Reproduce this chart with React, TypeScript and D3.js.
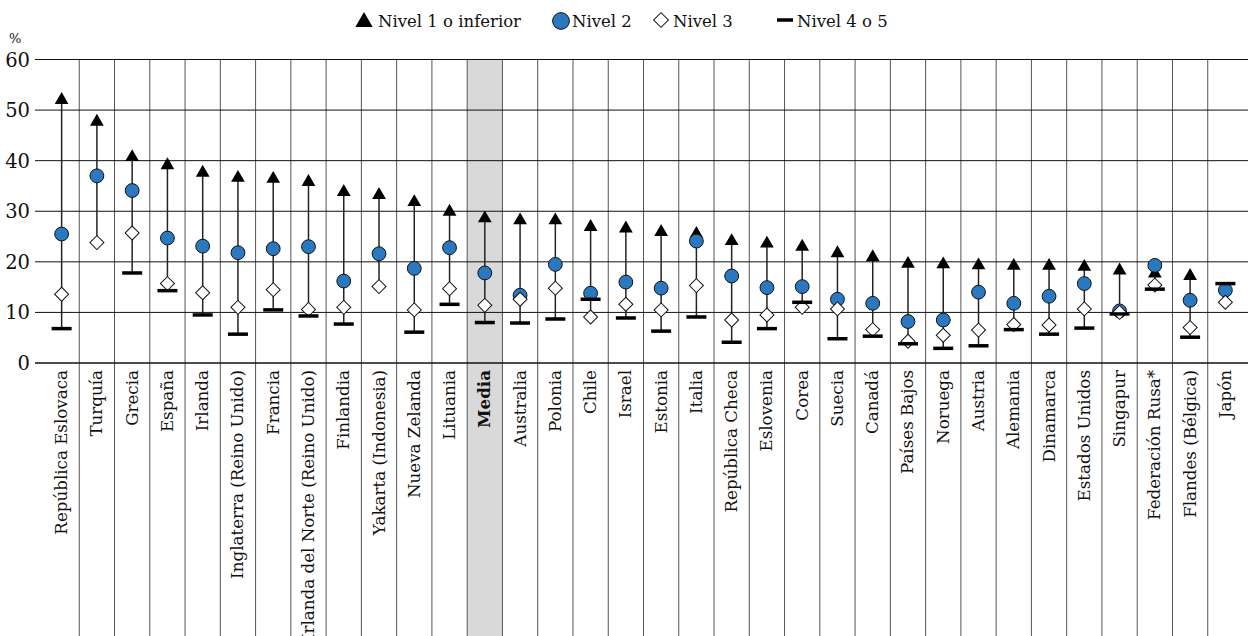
import React from "react";
import * as d3 from "d3";

const categories = [
  "República Eslovaca", "Turquía", "Grecia", "España", "Irlanda",
  "Inglaterra (Reino Unido)", "Francia", "Irlanda del Norte (Reino Unido)",
  "Finlandia", "Yakarta (Indonesia)", "Nueva Zelanda", "Lituania", "Media",
  "Australia", "Polonia", "Chile", "Israel", "Estonia", "Italia",
  "República Checa", "Eslovenia", "Corea", "Suecia", "Canadá", "Países Bajos",
  "Noruega", "Austria", "Alemania", "Dinamarca", "Estados Unidos", "Singapur",
  "Federación Rusa*", "Flandes (Bélgica)", "Japón",
];
const nivel1: (number | null)[] = [
  52.0, 47.7, 40.7, 39.1, 37.6, 36.6, 36.4, 35.8, 33.8, 33.2, 31.8, 29.9, 28.6,
  28.2, 28.2, 26.9, 26.6, 25.9, 25.5, 24.1, 23.6, 23.0, 21.7, 20.9, 19.6, 19.5,
  19.3, 19.2, 19.2, 19.0, 18.3, 17.7, 17.2, null,
];
const nivel2: (number | null)[] = [
  25.5, 37.0, 34.1, 24.7, 23.1, 21.8, 22.6, 23.0, 16.2, 21.6, 18.7, 22.8, 17.8,
  13.4, 19.5, 13.8, 16.0, 14.8, 24.1, 17.2, 14.9, 15.1, 12.6, 11.8, 8.2, 8.5,
  14.0, 11.8, 13.2, 15.7, 10.3, 19.3, 12.4, 14.4,
];
const nivel3: (number | null)[] = [
  13.6, 23.8, 25.7, 15.7, 13.9, 11.0, 14.5, 10.6, 11.0, 15.1, 10.5, 14.7, 11.4,
  12.6, 14.8, 9.1, 11.6, 10.5, 15.3, 8.5, 9.5, 11.0, 10.7, 6.6, 4.3, 5.5, 6.5,
  7.6, 7.5, 10.7, 10.0, 15.4, 7.0, 12.0,
];
const nivel45: (number | null)[] = [
  6.8, null, 17.8, 14.3, 9.5, 5.7, 10.5, 9.3, 7.7, null, 6.1, 11.6, 8.0, 7.9,
  8.7, 12.6, 8.9, 6.3, 9.1, 4.1, 6.8, 12.0, 4.8, 5.3, 3.8, 2.9, 3.4, 6.6, 5.7,
  6.9, 9.7, 14.6, 5.1, 15.7,
];
const yTicks = [0, 10, 20, 30, 40, 50, 60];
const legendLabels = ["Nivel 1 o inferior", "Nivel 2", "Nivel 3", "Nivel 4 o 5"];
const highlight = "Media";

const W = 1248;
const H = 636;
const FONT = "'DejaVu Serif', serif";

export default function App() {
  const x = d3.scaleBand<string>().domain(categories).range([44, 1243]);
  const y = d3.scaleLinear().domain([0, 60]).range([363, 59.5]);
  const gridLeft = 35;
  const gridRight = 1248;

  const tri = d3.symbol().type(d3.symbolTriangle).size(82)()!;
  const circ = d3.symbol().type(d3.symbolCircle).size(150)()!;
  const diam = d3.symbol().type(d3.symbolSquare).size(98)()!;
  const triL = d3.symbol().type(d3.symbolTriangle).size(130)()!;
  const circL = d3.symbol().type(d3.symbolCircle).size(220)()!;
  const diamL = d3.symbol().type(d3.symbolSquare).size(110)()!;

  const rows = categories.map((c, i) => {
    const vals = [nivel1[i], nivel2[i], nivel3[i], nivel45[i]].filter(
      (v): v is number => v != null
    );
    return { c, i, cx: x(c)! + x.bandwidth() / 2, min: d3.min(vals)!, max: d3.max(vals)! };
  });

  const hx = x(highlight)!;

  return (
    <svg
      width={W}
      height={H}
      style={{ position: "absolute", left: 0, top: 0, fontFamily: FONT }}
    >
      <rect x={0} y={0} width={W} height={H} fill="#fff" />
      <rect x={hx} y={y(60)} width={x.bandwidth()} height={H - y(60)} fill="#d9d9d9" />
      {categories.slice(1).map((c) => (
        <line
          key={"v" + c}
          x1={x(c)!}
          x2={x(c)!}
          y1={y(60)}
          y2={H}
          stroke="#555"
          strokeWidth={1}
        />
      ))}
      {yTicks.map((t) => (
        <g key={"t" + t}>
          <line
            x1={gridLeft}
            x2={gridRight}
            y1={y(t)}
            y2={y(t)}
            stroke="#111"
            strokeWidth={t === 0 ? 1.5 : 1}
          />
          <text
            x={30}
            y={y(t)}
            dy="0.36em"
            textAnchor="end"
            fontSize={19.5}
            fill="#111"
          >
            {t}
          </text>
        </g>
      ))}
      <text x={9} y={43} fontSize={13} fill="#111">%</text>
      {rows.map((r) => (
        <line
          key={"s" + r.c}
          x1={r.cx}
          x2={r.cx}
          y1={y(r.min)}
          y2={y(r.max)}
          stroke="#222"
          strokeWidth={1.5}
        />
      ))}
      {rows.map((r) =>
        nivel1[r.i] != null ? (
          <path key={"a" + r.c} d={tri} transform={`translate(${r.cx},${y(nivel1[r.i]!)})`} fill="#000" />
        ) : null
      )}
      {rows.map((r) =>
        nivel2[r.i] != null ? (
          <path
            key={"b" + r.c}
            d={circ}
            transform={`translate(${r.cx},${y(nivel2[r.i]!)})`}
            fill="#2a78c0"
            stroke="#111"
            strokeWidth={1}
          />
        ) : null
      )}
      {rows.map((r) =>
        nivel3[r.i] != null ? (
          <path
            key={"c" + r.c}
            d={diam}
            transform={`translate(${r.cx},${y(nivel3[r.i]!)}) rotate(45)`}
            fill="#fff"
            stroke="#111"
            strokeWidth={1}
          />
        ) : null
      )}
      {rows.map((r) =>
        nivel45[r.i] != null ? (
          <line
            key={"d" + r.c}
            x1={r.cx - 10}
            x2={r.cx + 10}
            y1={y(nivel45[r.i]!)}
            y2={y(nivel45[r.i]!)}
            stroke="#000"
            strokeWidth={3.5}
          />
        ) : null
      )}
      {rows.map((r) => (
        <text
          key={"l" + r.c}
          transform={`translate(${r.cx + 5.5},${370}) rotate(-90)`}
          textAnchor="end"
          fontSize={16.7}
          fontWeight={r.c === highlight ? "bold" : "normal"}
          fill="#111"
        >
          {r.c}
        </text>
      ))}
      <g fontSize={16.5} fill="#111">
        <path d={triL} transform="translate(364,22)" fill="#000" />
        <text x={378} y={21} dy="0.35em">{legendLabels[0]}</text>
        <path d={circL} transform="translate(561,21)" fill="#2a78c0" stroke="#111" strokeWidth={1} />
        <text x={572} y={21} dy="0.35em">{legendLabels[1]}</text>
        <path d={diamL} transform="translate(661,20) rotate(45)" fill="#fff" stroke="#111" strokeWidth={1} />
        <text x={673} y={21} dy="0.35em">{legendLabels[2]}</text>
        <line x1={777} x2={793} y1={20} y2={20} stroke="#000" strokeWidth={3.5} />
        <text x={797} y={21} dy="0.35em">{legendLabels[3]}</text>
      </g>
    </svg>
  );
}
